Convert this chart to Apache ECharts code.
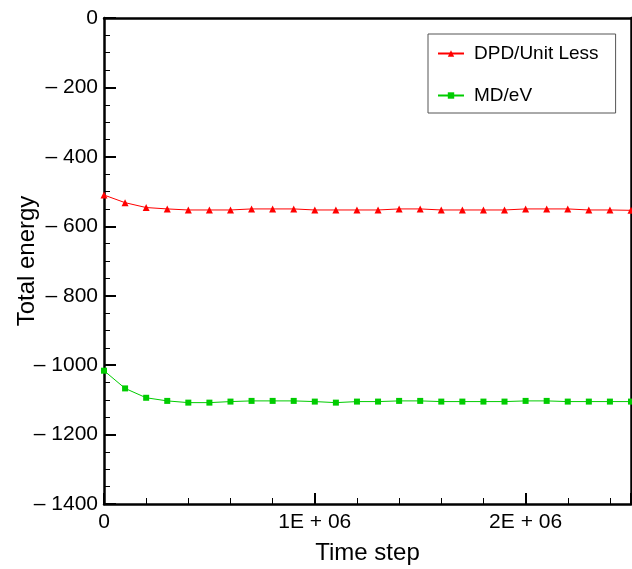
<!DOCTYPE html>
<html>
<head>
<meta charset="utf-8">
<script src="https://cdn.jsdelivr.net/npm/echarts@6/dist/echarts.min.js"></script>
<style>html,body{margin:0;padding:0;background:#fff}#c{width:632px;height:569px}</style>
</head>
<body>
<div id="c"></div>
<script>
var timeSteps = [0,100000,200000,300000,400000,500000,600000,700000,800000,900000,1000000,1100000,1200000,1300000,1400000,1500000,1600000,1700000,1800000,1900000,2000000,2100000,2200000,2300000,2400000,2500000];
var dpdEnergy = [-510,-532,-546,-550,-553,-553,-553,-550,-550,-550,-553,-553,-553,-553,-550,-550,-553,-553,-553,-553,-550,-550,-550,-553,-553,-554];
var mdEnergy = [-1016,-1067,-1094,-1103,-1108,-1108,-1105,-1103,-1103,-1103,-1105,-1108,-1105,-1105,-1103,-1103,-1105,-1105,-1105,-1105,-1103,-1103,-1105,-1105,-1105,-1105];
var seriesNames = ['DPD/Unit Less','MD/eV'];
var xTickLabels = {0:'0',1000000:'1E + 06',2000000:'2E + 06'};

var FONT = '"Liberation Sans", Arial, Helvetica, sans-serif';
var chart = echarts.init(document.getElementById('c'));
function pairs(xs, ys){ return xs.map(function(x,i){ return [x, ys[i]]; }); }
var axisLine = {show:true, onZero:false, lineStyle:{color:'#000', width:2.5}};
chart.setOption({
  animation:false,
  backgroundColor:'#fff',
  grid:{left:104, right:1, top:18, bottom:65, containLabel:false, outerBoundsMode:'none'},
  legend:{
    orient:'vertical', left:428, top:34,
    backgroundColor:'#fff', borderColor:'#555', borderWidth:1,
    padding:[10,17,8,9], itemGap:23, itemWidth:26, itemHeight:8,
    textStyle:{fontFamily:FONT, fontSize:19, color:'#000', padding:[0,0,0,5]},
    data:seriesNames
  },
  xAxis:[{
    type:'value', min:0, max:2500000, interval:1000000, position:'bottom',
    name:'Time step', nameLocation:'middle', nameGap:37, nameMoveOverlap:false,
    nameTextStyle:{fontFamily:FONT, fontSize:24, color:'#000'},
    axisLine:axisLine,
    axisTick:{show:true, inside:true, length:11, lineStyle:{color:'#000', width:2}},
    minorTick:{show:true, splitNumber:5, length:6, lineStyle:{color:'#000', width:1}},
    splitLine:{show:false},
    axisLabel:{fontFamily:FONT, fontSize:21, color:'#000', margin:8, showMaxLabel:false,
      formatter:function(v){ return xTickLabels[v] !== undefined ? xTickLabels[v] : ''; }}
  },{
    type:'value', min:0, max:2500000, position:'top',
    axisLine:axisLine, axisTick:{show:false}, minorTick:{show:false}, axisLabel:{show:false}, splitLine:{show:false}
  }],
  yAxis:[{
    type:'value', min:-1400, max:0, interval:200, position:'left',
    name:'Total energy', nameLocation:'middle', nameGap:65, nameRotate:90, nameMoveOverlap:false,
    nameTextStyle:{fontFamily:FONT, fontSize:24, color:'#000'},
    axisLine:axisLine,
    axisTick:{show:true, inside:true, length:12, lineStyle:{color:'#000', width:2}},
    minorTick:{show:true, splitNumber:4, length:6, lineStyle:{color:'#000', width:1}},
    splitLine:{show:false},
    axisLabel:{fontFamily:FONT, fontSize:21, color:'#000', margin:6,
      formatter:function(v){ return v < 0 ? '\u2013 ' + (-v) : String(v); }}
  },{
    type:'value', min:-1400, max:0, position:'right',
    axisLine:axisLine, axisTick:{show:false}, minorTick:{show:false}, axisLabel:{show:false}, splitLine:{show:false}
  }],
  series:[{
    name:seriesNames[0], type:'line', data:pairs(timeSteps, dpdEnergy),
    symbol:'triangle', symbolSize:7, showAllSymbol:true,
    lineStyle:{color:'#ff0000', width:1}, itemStyle:{color:'#ff0000'}
  },{
    name:seriesNames[1], type:'line', data:pairs(timeSteps, mdEnergy),
    symbol:'rect', symbolSize:6, showAllSymbol:true,
    lineStyle:{color:'#00cc00', width:1}, itemStyle:{color:'#00cc00'}
  }]
});
</script>
</body>
</html>
